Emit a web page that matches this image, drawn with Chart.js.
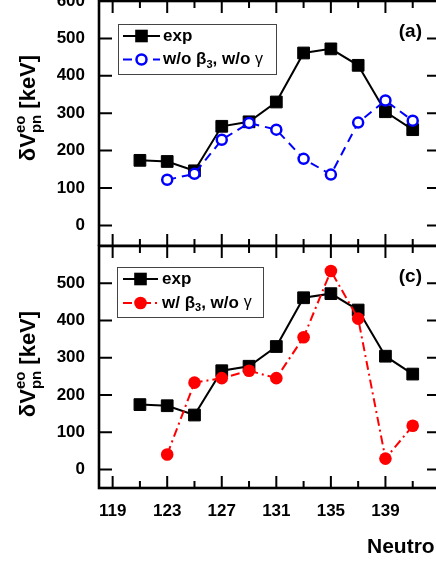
<!DOCTYPE html>
<html>
<head>
<meta charset="utf-8">
<script src="https://cdn.jsdelivr.net/npm/chart.js@4.4.1/dist/chart.umd.min.js"></script>
<style>
  html, body { margin: 0; padding: 0; background: #fff; overflow: hidden; width: 436px; height: 564px; }
  #wrap { position: relative; width: 436px; height: 564px; overflow: hidden; }
  canvas { position: absolute; left: 0; }
  #chartA { top: -20px; }
  #chartB { top: 240px; }
</style>
</head>
<body>
<div id="wrap">
  <canvas id="chartA" width="450" height="266"></canvas>
  <canvas id="chartB" width="450" height="324"></canvas>
</div>
<script>
// neutron numbers and dV_pn values (keV)
const neutronN = [121, 123, 125, 127, 129, 131, 133, 135, 137, 139, 141];
const expVals = [174, 171, 146, 265, 277, 330, 461, 472, 428, 304, 256];
const calcN = [123, 125, 127, 129, 131, 133, 135, 137, 139, 141];
const noBetaVals = [122, 138, 229, 274, 256, 178, 136, 275, 334, 280];
const withBetaVals = [40, 233, 245, 265, 245, 355, 533, 405, 29, 117];

const xLabelTicks = [119, 123, 127, 131, 135, 139];
const xMajorTicks = [119, 123, 127, 131, 135, 139, 143];
const xMinorTicks = [121, 125, 129, 133, 137, 141];
const yLabelsA = [0, 100, 200, 300, 400, 500, 600];
const yLabelsB = [0, 100, 200, 300, 400, 500];

const FONT = '"Liberation Sans", Arial, sans-serif';
Chart.defaults.font.family = FONT;
Chart.defaults.color = "#000";

function pts(xs, ys) {
  return xs.map((x, i) => ({ x: x, y: ys[i] }));
}

const expSet = {
  label: "exp",
  data: pts(neutronN, expVals),
  borderColor: "#000",
  backgroundColor: "#000",
  borderWidth: 2,
  pointStyle: "rect",
  pointRadius: 8.3,
  pointBorderWidth: 1,
  pointBorderColor: "#000",
  pointBackgroundColor: "#000",
};

// frame + inward ticks, legend, labels
const decorPlugin = {
  id: "decor",
  afterDraw(chart, args, o) {
    const ctx = chart.ctx;
    const a = chart.chartArea;
    const xs = chart.scales.x, ys = chart.scales.y;
    const off = o.offsetY;
    ctx.save();

    // ticks
    ctx.strokeStyle = "#000";
    ctx.lineWidth = 2;
    ctx.beginPath();
    ys.ticks.forEach(t => {
      if (t.value % 50 !== 0) return;
      const y = ys.getPixelForValue(t.value);
      const len = t.value % 100 === 0 ? 13 : 7;
      ctx.moveTo(a.left, y); ctx.lineTo(a.left + len, y);
      ctx.moveTo(a.right, y); ctx.lineTo(a.right - len, y);
    });
    xMajorTicks.concat(xMinorTicks).forEach(v => {
      const x = xs.getPixelForValue(v);
      const len = xMajorTicks.includes(v) ? 12 : 7;
      ctx.moveTo(x, a.bottom); ctx.lineTo(x, a.bottom - len);
      ctx.moveTo(x, a.top); ctx.lineTo(x, a.top + len);
    });
    ctx.stroke();

    // frame
    ctx.lineWidth = 2.6;
    ctx.strokeRect(a.left, a.top, a.right - a.left, a.bottom - a.top);

    // legend box
    const lg = o.legend;
    ctx.fillStyle = "#fff";
    ctx.fillRect(lg.x0, lg.y0 + off, lg.x1 - lg.x0, lg.y1 - lg.y0);
    ctx.strokeStyle = "#444";
    ctx.lineWidth = 1;
    ctx.strokeRect(lg.x0 + 0.5, lg.y0 + off + 0.5, lg.x1 - lg.x0, lg.y1 - lg.y0);

    lg.rows.forEach(r => {
      const y = r.y + off;
      const ds = chart.data.datasets.find(d => d.label === r.ds);
      ctx.strokeStyle = ds.borderColor;
      ctx.lineWidth = 2;
      ctx.setLineDash(ds.borderDash || []);
      ctx.beginPath();
      ctx.moveTo(lg.lx0, y); ctx.lineTo(lg.lx1, y);
      ctx.stroke();
      ctx.setLineDash([]);
      const cx = (lg.lx0 + lg.lx1) / 2;
      if (ds.pointStyle === "rect") {
        ctx.fillStyle = "#000";
        ctx.fillRect(cx - 6.3, y - 6.3, 12.6, 12.6);
      } else {
        ctx.beginPath();
        ctx.arc(cx, y, ds.pointRadius, 0, Math.PI * 2);
        ctx.fillStyle = ds.pointBackgroundColor;
        ctx.fill();
        if (ds.pointBorderWidth) {
          ctx.lineWidth = ds.pointBorderWidth;
          ctx.strokeStyle = ds.pointBorderColor;
          ctx.stroke();
        }
      }
      // text with subscript
      ctx.fillStyle = "#000";
      ctx.textBaseline = "middle";
      ctx.textAlign = "left";
      let x = lg.tx;
      r.parts.forEach(p => {
        ctx.font = p.font;
        ctx.fillText(p.t, x, y + (p.dy || 0));
        x += ctx.measureText(p.t).width;
      });
    });

    // panel label
    ctx.font = "bold 19px " + FONT;
    ctx.textAlign = "right";
    ctx.textBaseline = "middle";
    ctx.fillStyle = "#000";
    ctx.fillText(o.panel.text, o.panel.x, o.panel.y + off);

    // y-axis title: dV^eo_pn [keV]
    ctx.save();
    ctx.translate(o.ytitle.x, o.ytitle.y + off);
    ctx.rotate(-Math.PI / 2);
    const big = "bold 22px " + FONT, small = "bold 15px " + FONT;
    ctx.font = big;
    const wd = ctx.measureText("\u03b4").width;
    const wv = ctx.measureText("V").width;
    const wk = ctx.measureText(" [keV]").width;
    ctx.font = small;
    const ws = Math.max(ctx.measureText("eo").width, ctx.measureText("pn").width);
    let tx = -(wd + wv + ws + wk) / 2;
    const base = 8;
    ctx.textAlign = "left";
    ctx.textBaseline = "alphabetic";
    ctx.font = big;
    ctx.fillText("\u03b4", tx, base); tx += wd;
    ctx.fillText("V", tx, base); tx += wv;
    ctx.font = small;
    ctx.fillText("eo", tx, base - 10);
    ctx.fillText("pn", tx, base + 6);
    tx += ws;
    ctx.font = big;
    ctx.fillText(" [keV]", tx, base);
    ctx.restore();

    if (o.xtitle) {
      ctx.font = "bold 21px " + FONT;
      ctx.textAlign = "left";
      ctx.textBaseline = "middle";
      ctx.fillText(o.xtitle.text, o.xtitle.x, o.xtitle.y + off);
    }
    ctx.restore();
  },
};

function makeChart(id, cfg) {
  return new Chart(document.getElementById(id), {
    type: "line",
    data: { datasets: [cfg.model, expSet] },
    options: {
      responsive: false,
      animation: false,
      devicePixelRatio: 1,
      layout: {
        autoPadding: false,
        padding: { left: 0, right: 10, top: cfg.padTop, bottom: 0 },
      },
      plugins: {
        legend: { display: false },
        tooltip: { enabled: false },
        decor: cfg.decor,
      },
      scales: {
        x: {
          type: "linear",
          min: 118,
          max: 143,
          afterBuildTicks: s => { s.ticks = xLabelTicks.map(v => ({ value: v })); },
          afterFit: s => {
            s.height = cfg.xHeight;
            s.paddingLeft = 0; s.paddingRight = 0;
          },
          grid: { display: false, drawTicks: false },
          border: { display: false },
          ticks: {
            display: cfg.xLabels,
            autoSkip: false,
            maxRotation: 0,
            padding: 13,
            font: { size: 17, weight: "bold" },
            color: "#000",
          },
        },
        y: {
          min: cfg.yMin,
          max: 600,
          afterFit: s => {
            s.width = 99;
            s.paddingTop = 0; s.paddingBottom = 0;
          },
          grid: { display: false, drawTicks: false },
          border: { display: false },
          ticks: {
            stepSize: 50,
            autoSkip: false,
            padding: 14,
            font: { size: 17, weight: "bold" },
            color: "#000",
            callback: v => (cfg.yLabels.includes(v) ? String(v) : null),
          },
        },
      },
    },
    plugins: [decorPlugin],
  });
}

makeChart("chartA", {
  padTop: 21,
  xHeight: 0,
  xLabels: false,
  yMin: -55,
  yLabels: yLabelsA,
  model: {
    label: "noBeta",
    data: pts(calcN, noBetaVals),
    borderColor: "#0000ff",
    borderDash: [9, 6],
    borderWidth: 2,
    pointStyle: "circle",
    pointRadius: 5,
    pointBorderWidth: 2.5,
    pointBorderColor: "#0000ff",
    pointBackgroundColor: "#fff",
  },
  decor: {
    offsetY: 20,
    legend: {
      x0: 118, x1: 276, y0: 24, y1: 74,
      lx0: 123, lx1: 160, tx: 163,
      rows: [
        { y: 36, ds: "exp", parts: [{ t: "exp", font: "bold 17px " + FONT }] },
        { y: 59.5, ds: "noBeta", parts: [
          { t: "w/o \u03b2", font: "bold 17px " + FONT },
          { t: "3", font: "bold 11px " + FONT, dy: 5 },
          { t: ", w/o ", font: "bold 17px " + FONT },
          { t: "\u03b3", font: "16px " + FONT },
        ] },
      ],
    },
    panel: { text: "(a)", x: 422, y: 32 },
    ytitle: { x: 27, y: 108 },
  },
});

makeChart("chartB", {
  padTop: 6,
  xHeight: 76,
  xLabels: true,
  yMin: -50,
  yLabels: yLabelsB,
  model: {
    label: "withBeta",
    data: pts(calcN, withBetaVals),
    borderColor: "#ff0000",
    borderDash: [9, 4, 2, 4],
    borderWidth: 2,
    pointStyle: "circle",
    pointRadius: 6.3,
    pointBorderWidth: 0,
    pointBorderColor: "#ff0000",
    pointBackgroundColor: "#ff0000",
  },
  decor: {
    offsetY: -240,
    legend: {
      x0: 117, x1: 263, y0: 267, y1: 317,
      lx0: 123, lx1: 158, tx: 162,
      rows: [
        { y: 279, ds: "exp", parts: [{ t: "exp", font: "bold 17px " + FONT }] },
        { y: 303, ds: "withBeta", parts: [
          { t: "w/ \u03b2", font: "bold 17px " + FONT },
          { t: "3", font: "bold 11px " + FONT, dy: 5 },
          { t: ", w/o ", font: "bold 17px " + FONT },
          { t: "\u03b3", font: "16px " + FONT },
        ] },
      ],
    },
    panel: { text: "(c)", x: 422, y: 277 },
    ytitle: { x: 27, y: 364 },
    xtitle: { text: "Neutron Number", x: 367, y: 547 },
  },
});
</script>
</body>
</html>
